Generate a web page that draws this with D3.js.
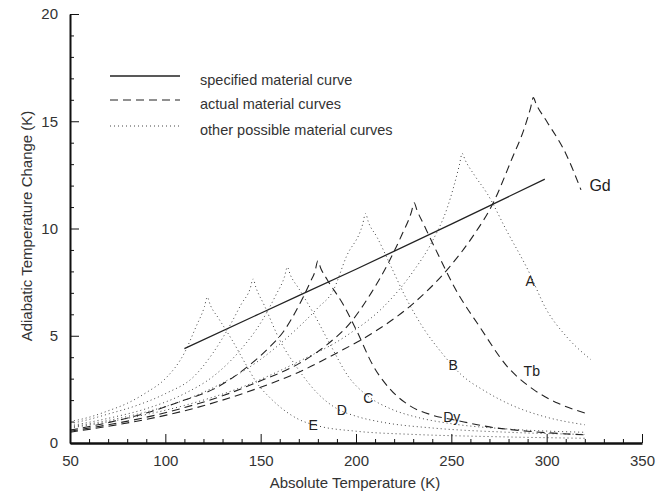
<html>
  <head>
    <style>
      body { margin: 0; background: #fff; }
      svg { font-family: "Liberation Sans", Arial, Helvetica, sans-serif; }
      .tick text { fill: #333; font-size: 15px; }
      .domain, .tick line { stroke: #111; }
      .curve { fill: none; stroke: #222; }
      .specified { stroke-width: 1.3px; }
      .actual { stroke-width: 1.1px; stroke-dasharray: 8,5; }
      .other { stroke-width: 1px; stroke-dasharray: 1,3; stroke: #444; }
      .lbl { font-size: 15px; fill: #222; }
    </style>
    <script src="https://d3js.org/d3.v7.min.js"></script>
  </head>
  <body>
    <svg id="svg"></svg>
    <script>
      var width = 669,
          height = 493,
          margin = {top: 14, right: 27, bottom: 50, left: 70};

      // specified material curve (solid)
      var specified = [[110,4.4],[150,6.05],[200,8.1],[250,10.2],[299,12.3]];

      // actual material curves (dashed)
      var gd = [[50,0.5],[70,0.78],[90,1.1],[110,1.5],[130,2.0],[150,2.6],[170,3.3],[190,4.2],[210,5.2],[230,6.5],
                [249,8.2],[261,9.6],[272,11.2],[282,13.3],[288,14.6],[291.5,15.6],[293,16.1],[294.5,15.8],[300,15.0],[310,13.5],[318,11.8]];
      var tb = [[50,0.55],[70,0.85],[90,1.2],[110,1.65],[130,2.2],[150,2.9],[170,3.7],[185,4.6],[197,5.6],[208,7.0],
                [217,8.4],[224,9.7],[229,10.75],[230.5,11.2],[232,10.85],[236,10.1],[243,8.8],[252,7.2],[265,5.4],[279,3.6],[293,2.5],[306,1.85],[320,1.4]];
      var dy = [[50,0.6],[70,0.95],[90,1.4],[110,2.0],[125,2.5],[143,3.55],[155,4.5],[162,5.2],[170,6.4],[176,7.5],
                [178.5,8.0],[180,8.5],[181.5,8.15],[185,7.6],[193,6.5],[200,5.3],[209,3.6],[218,2.5],[228,1.75],[240,1.3],[253,1.05],[270,0.75],[290,0.55],[320,0.38]];

      // other possible material curves (dotted)
      var curveA = [[50,0.7],[80,1.15],[110,1.75],[140,2.6],[170,3.8],[195,5.0],[215,6.4],[230,8.0],[240,9.4],[248,11.0],
                    [254.2,12.95],[255.7,13.5],[257.2,13.2],[262,12.5],[269,11.6],[279,9.9],[290,8.1],[300,6.2],[310,5.0],[323,3.9]];
      var curveB = [[50,0.75],[70,1.05],[90,1.45],[110,2.0],[130,2.8],[150,3.9],[165,5.0],[180,6.3],[188,7.1],[195,8.7],
                    [203.5,10.2],[205,10.7],[206.5,10.3],[211,9.6],[218,8.3],[226,6.8],[235,5.4],[245,4.2],[255,3.2],[268,2.4],[282,1.75],[300,1.2],[320,0.85]];
      var curveC = [[50,0.8],[70,1.15],[90,1.6],[110,2.3],[125,3.1],[140,4.4],[150,5.6],[158,6.9],[162.5,7.75],[164,8.2],
                    [165.5,7.85],[170,7.2],[178,6.0],[187,4.5],[196,3.1],[206,2.2],[218,1.6],[232,1.2],[250,0.9],[280,0.65],[320,0.5]];
      var curveD = [[50,0.9],[60,1.1],[70,1.35],[85,1.75],[100,2.3],[115,3.1],[125,4.2],[134,5.5],[140,6.5],[144.5,7.2],
                    [146,7.65],[147.5,7.25],[152,6.4],[160,4.8],[170,3.4],[180,2.3],[190,1.6],[200,1.25],[215,0.95],[240,0.7],[280,0.5],[320,0.4]];
      var curveE = [[50,1.0],[60,1.2],[70,1.5],[80,1.85],[90,2.35],[100,3.0],[110,4.2],[116,5.4],[120.5,6.35],[122,6.8],
                    [123.5,6.45],[128,5.8],[135,4.8],[142,3.7],[148,2.8],[155,2.1],[162,1.55],[170,1.1],[180,0.8],[200,0.55],[230,0.4],[270,0.3],[320,0.22]];

      var labelNames = ["A", "B", "C", "D", "E", "Gd", "Tb", "Dy"];
      var labelPos = [[291.3,7.55],[251,3.63],[206.5,2.09],[192.5,1.54],[177.6,0.84],[328,12.0],[292.2,3.33],[250.2,1.23]];

      var xTicks = [50, 100, 150, 200, 250, 300, 350];
      var yTicks = [0, 5, 10, 15, 20];

      var legendNames = ["specified material curve", "actual material curves", "other possible material curves"];

      var svg = d3.select("#svg")
          .attr("width", width)
          .attr("height", height);

      var x = d3.scaleLinear().domain([50, 350]).range([margin.left, width - margin.right]);
      var y = d3.scaleLinear().domain([0, 20]).range([height - margin.bottom, margin.top]);

      var line = d3.line()
          .x(function(d) { return x(d[0]); })
          .y(function(d) { return y(d[1]); })
          .curve(d3.curveMonotoneX);

      // curves
      [curveA, curveB, curveC, curveD, curveE].forEach(function(c) {
        svg.append("path").datum(c).attr("class", "curve other").attr("d", line);
      });
      [gd, tb, dy].forEach(function(c) {
        svg.append("path").datum(c).attr("class", "curve actual").attr("d", line);
      });
      svg.append("path").datum(specified).attr("class", "curve specified").attr("d", line);

      // minor ticks
      svg.append("g")
          .attr("transform", "translate(0," + y(0) + ")")
          .call(d3.axisBottom(x).tickValues(d3.range(60, 350, 10).filter(function(v) { return v % 50 !== 0; }))
                .tickSize(-4).tickFormat(""))
          .call(function(g) { g.select(".domain").remove(); });
      svg.append("g")
          .attr("transform", "translate(" + x(50) + ",0)")
          .call(d3.axisLeft(y).tickValues(d3.range(1, 20).filter(function(v) { return v % 5 !== 0; }))
                .tickSize(-4).tickFormat(""))
          .call(function(g) { g.select(".domain").remove(); });

      // main axes
      svg.append("g")
          .attr("transform", "translate(0," + y(0) + ")")
          .call(d3.axisBottom(x).tickValues(xTicks).tickSize(-9).tickSizeOuter(0).tickPadding(12))
          .call(function(g) { g.select(".domain").attr("stroke-width", 2.5); });
      svg.append("g")
          .attr("transform", "translate(" + x(50) + ",0)")
          .call(d3.axisLeft(y).tickValues(yTicks).tickSize(-9).tickSizeOuter(0).tickPadding(12))
          .call(function(g) { g.select(".domain").attr("stroke-width", 2); });

      // axis titles
      svg.append("text")
          .attr("x", 355).attr("y", 488)
          .attr("text-anchor", "middle")
          .style("font-size", "15px").style("fill", "#333")
          .text("Absolute Temperature (K)");
      svg.append("text")
          .attr("transform", "translate(32,226) rotate(-90)")
          .attr("text-anchor", "middle")
          .style("font-size", "15px").style("fill", "#333")
          .text("Adiabatic Temperature Change (K)");

      // curve labels
      svg.selectAll(".lbl").data(labelNames)
        .enter().append("text")
          .attr("class", "lbl")
          .attr("x", function(d, i) { return x(labelPos[i][0]); })
          .attr("y", function(d, i) { return y(labelPos[i][1]); })
          .attr("dy", "0.35em")
          .attr("text-anchor", "middle")
          .style("font-size", function(d) { return d === "Gd" ? "16px" : "14px"; })
          .text(function(d) { return d; });

      // legend
      var legendClass = ["specified", "actual", "other"];
      var legendY = [76, 100, 126];
      var lg = svg.append("g");
      legendNames.forEach(function(name, i) {
        lg.append("line")
            .attr("class", "curve " + legendClass[i])
            .attr("x1", 110).attr("x2", 180)
            .attr("y1", legendY[i]).attr("y2", legendY[i]);
        lg.append("text")
            .attr("x", 200).attr("y", legendY[i] + 9)
            .style("font-size", "14.5px").style("fill", "#333")
            .text(name);
      });
    </script>
  </body>
</html>
